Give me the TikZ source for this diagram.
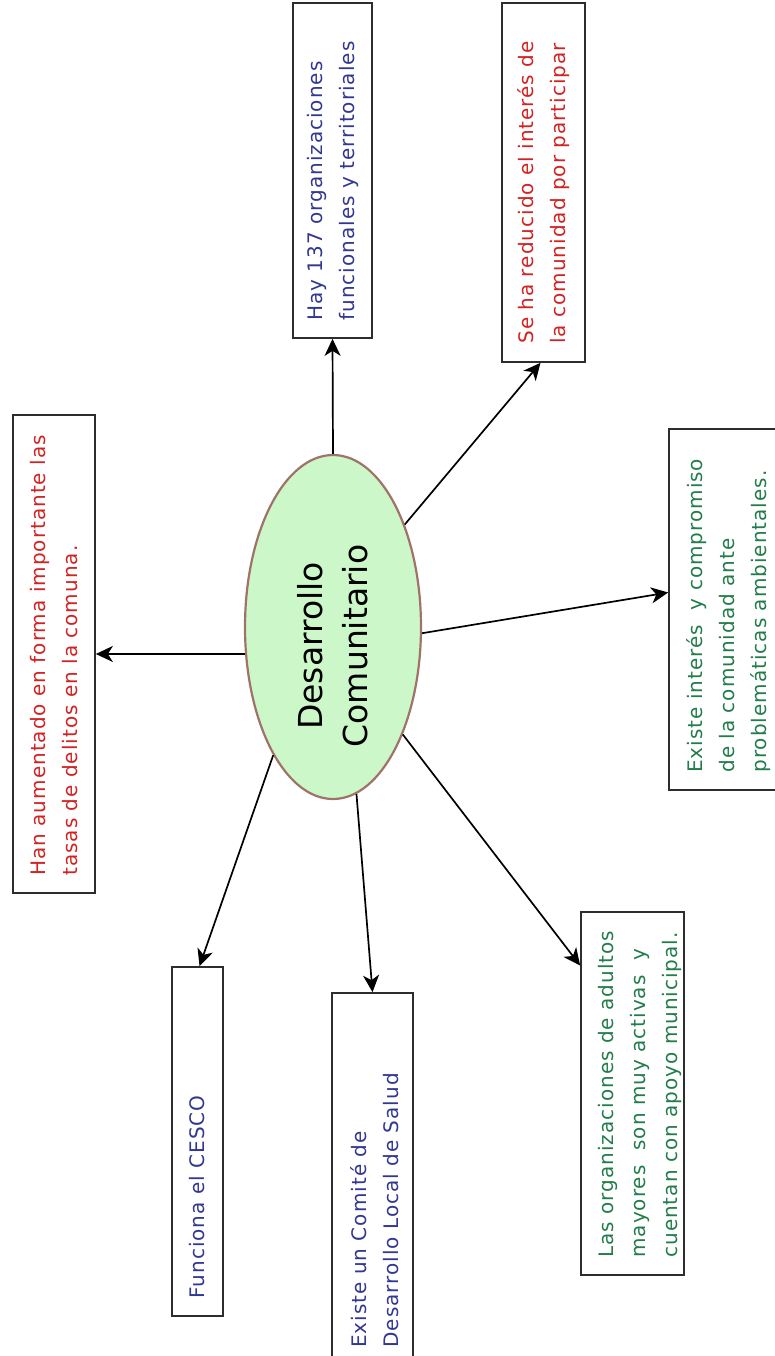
\documentclass[tikz,border=0pt]{standalone}
\usepackage{fontspec}
\setmainfont{DejaVu Sans}[LetterSpace=5]
\newfontfamily\titlefont{DejaVu Sans}
\usetikzlibrary{arrows.meta,shapes.geometric,calc}
\definecolor{tblue}{RGB}{50,55,145}
\definecolor{tred}{RGB}{210,35,35}
\definecolor{tgreen}{RGB}{35,125,75}
\definecolor{ellfill}{RGB}{204,247,200}
\definecolor{elldraw}{RGB}{160,115,105}
\definecolor{boxdraw}{RGB}{45,45,45}
\begin{document}
\begin{tikzpicture}[x=1pt,y=-1pt,
  box/.style={draw=boxdraw,line width=1.7pt,fill=white,rectangle,inner sep=0pt},
  txt/.style={rotate=90,anchor=west,align=left,inner sep=0pt,font=\fontsize{20}{32}\selectfont},
  arr/.style={line width=1.7pt,-{Stealth[length=17pt,width=16pt,inset=5pt]}},
]
\useasboundingbox[fill=white] (0,0) rectangle (775,1356);

% central ellipse
\node[ellipse,draw=elldraw,fill=ellfill,line width=2.2pt,minimum width=176pt,minimum height=344pt,inner sep=0pt] (ell) at (333,627) {};
\node[rotate=90,align=center,inner sep=0pt,font=\titlefont\fontsize{33}{45}\selectfont] (elltxt) at (333,646) {Desarrollo\\Comunitario};

% boxes
\node[box,minimum width=79pt,minimum height=335pt] (hay) at (332.5,170.5) {};
\node[box,minimum width=83pt,minimum height=359pt] (seha) at (543.5,182.5) {};
\node[box,minimum width=82pt,minimum height=478pt] (han) at (54,654) {};
\node[box,minimum width=120pt,minimum height=361pt] (ex) at (729,609.5) {};
\node[box,minimum width=51pt,minimum height=349pt] (cesco) at (197.5,1141.5) {};
\node[box,minimum width=81pt,minimum height=372pt] (com) at (372.5,1179) {};
\node[box,minimum width=103pt,minimum height=363pt] (las) at (632.5,1093.5) {};

% texts
\node[txt,text=tblue] (hayt) at ([yshift=18pt]hay.south) {Hay 137 organizaciones\\funcionales y territoriales};
\node[txt,text=tred] (sehat) at ([yshift=19pt]seha.south) {Se ha reducido el interés de\\la comunidad por participar};
\node[txt,text=tred] (hant) at ([yshift=18pt]han.south) {Han aumentado en forma importante las\\tasas de delitos en la comuna.};
\node[txt,text=tgreen] (ext) at ([yshift=18pt]ex.south) {Existe interés~ y compromiso\\de la comunidad ante\\problemáticas ambientales.};
\node[txt,text=tblue] (cescot) at ([yshift=18pt]cesco.south) {Funciona el CESCO};
\node[txt,text=tblue] (comt) at ([yshift=18pt,xshift=2pt]com.south) {Existe un Comité de\\Desarrollo Local de Salud};
\node[txt,text=tgreen] (last) at ([yshift=18pt,xshift=7pt]las.south) {Las organizaciones de adultos\\mayores~ son muy activas~ y\\cuentan con apoyo municipal.};

% connectors
\draw[arr] (ell.90) -- (hay.south);
\draw[arr] (ell.55.4) -- ([xshift=-3pt]seha.south);
\draw[arr] (ell.197.9) -- (han.east);
\draw[arr] (ell.-4.5) -- ([yshift=17pt]ex.west);
\draw[arr] (ell.-57.8) -- ([yshift=128pt]las.west);
\draw[arr] (ell.-82.5) -- (com.north);
\draw[arr] (ell.-115.5) -- ([xshift=2pt]cesco.north);
\end{tikzpicture}
\end{document}
